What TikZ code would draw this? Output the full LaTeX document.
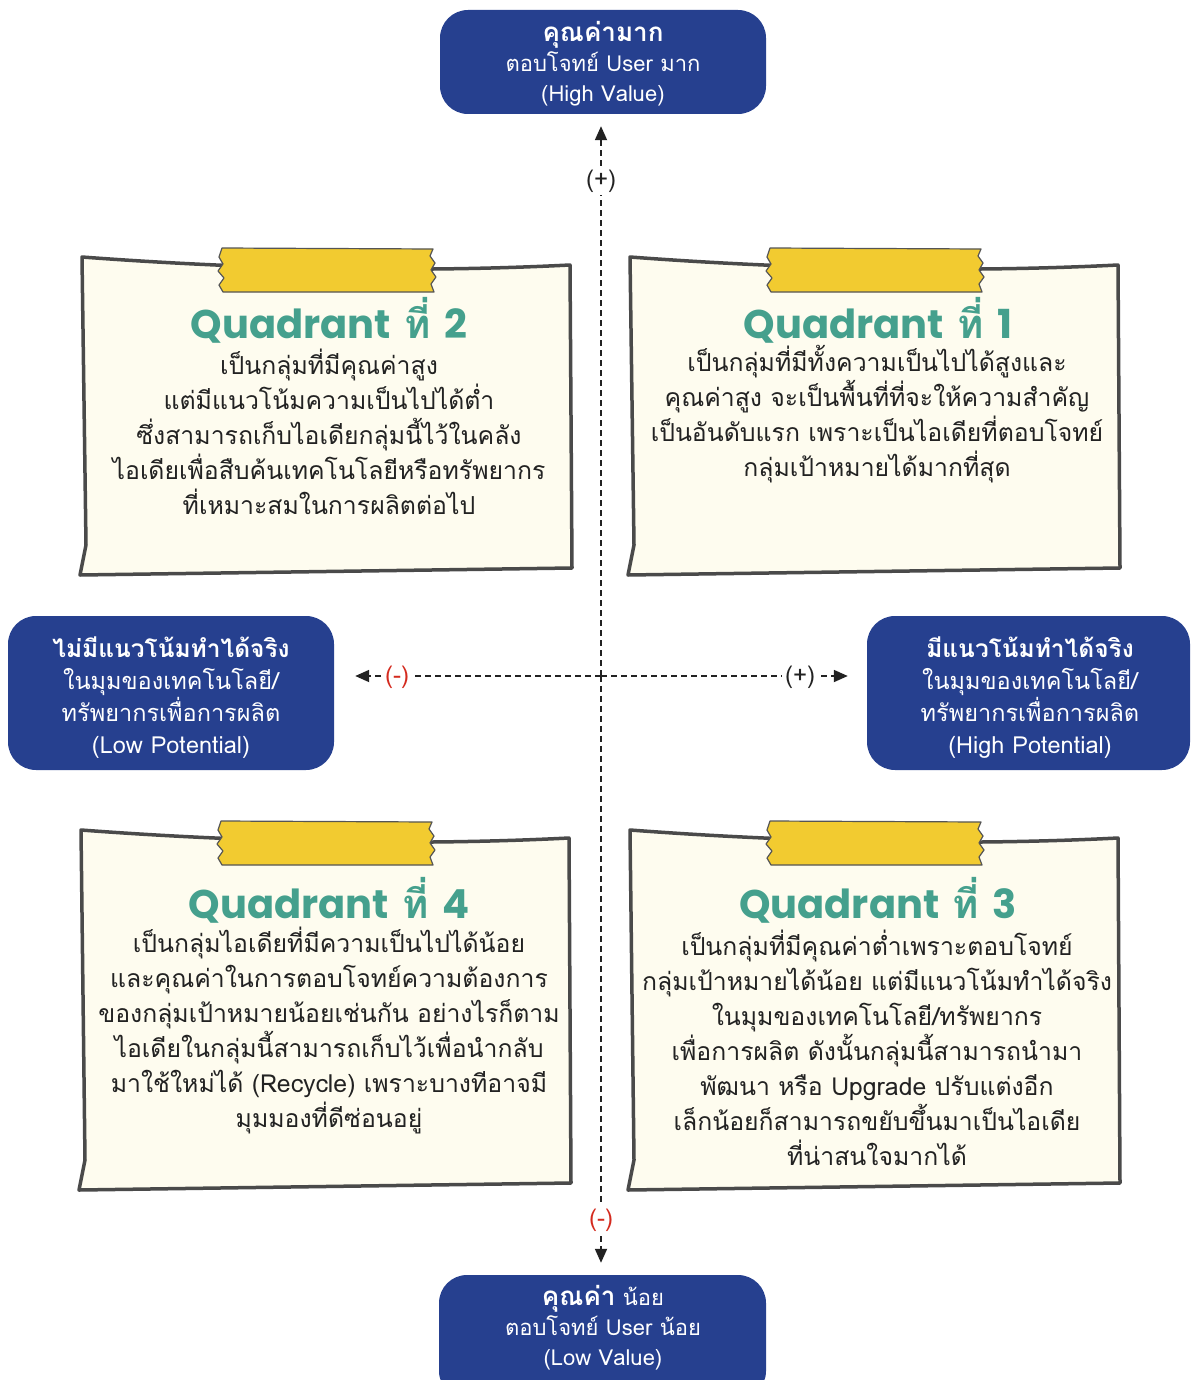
\documentclass[tikz,border=0pt]{standalone}
\usepackage{fontspec}
\setmainfont[Script=Thai]{Loma}
\newfontfamily\poppins{Poppins}
\usetikzlibrary{arrows.meta}

\definecolor{navy}{HTML}{26408F}
\definecolor{cardfill}{HTML}{FEFCEF}
\definecolor{cardline}{HTML}{4A4A4A}
\definecolor{tapeyellow}{HTML}{F2CB30}
\definecolor{tapeline}{HTML}{555555}
\definecolor{teal}{HTML}{45A08D}
\definecolor{minus}{HTML}{D42A1E}
\definecolor{ink}{HTML}{222222}

\tikzset{
  paper/.style={fill=cardfill, draw=cardline, line width=3.5pt, line join=round},
  tape/.style={fill=tapeyellow, draw=tapeline, line width=1.2pt, line join=round},
  bluebox/.style={fill=navy, draw=none, rounded corners=28pt, inner sep=0pt},
  boxtext/.style={text=white, align=center, inner sep=0pt, font=\fontsize{22}{30}\selectfont},
  sidetext/.style={text=white, align=center, inner sep=0pt, font=\fontsize{23.5}{32}\selectfont},
  qtitle/.style={text=teal, anchor=base, inner sep=0pt, font=\fontsize{40}{44}\selectfont\bfseries},
  qbody/.style={text=ink, align=center, inner sep=0pt, font=\fontsize{24.8}{35}\selectfont},
  axis/.style={draw=ink, line width=1.8pt, dash pattern=on 6pt off 4pt},
  tip/.style={-{Triangle[length=14pt,width=12pt]}},
  axislabel/.style={fill=white, inner sep=3pt, font=\fontsize{24}{28}\selectfont},
  pics/notecard/.style={code={
    \path[paper] (0,0) .. controls (160,12) and (330,16) .. (488,8)
      -- (490,#1-7) -- (-2,#1) -- (4,#1-30) -- cycle;
    \path[tape] (140,-9) -- (351,-8) -- (348,-1) -- (353,6) -- (349,13)
      -- (354,20) -- (349,27) -- (352,35) -- (141,35) -- (137,28)
      -- (142,21) -- (136,14) -- (141,7) -- (137,0) -- cycle;
  }}
}

\begin{document}
\begin{tikzpicture}[x=1pt,y=-1pt]
\useasboundingbox (0,0) rectangle (1192,1380);

% value / potential boxes
\node[bluebox, minimum width=326pt, minimum height=104pt] (high) at (603,62) {};
\node[boxtext] (hightxt) at (603,64) {{\fontsize{26}{30}\selectfont\bfseries คุณค่ามาก}\\ตอบโจทย์ User มาก\\(High Value)};

\node[bluebox, minimum width=326pt, minimum height=154pt] (lowpot) at (171,693) {};
\node[sidetext] (lowpottxt) at (171,698) {{\fontsize{24.5}{32}\selectfont\bfseries ไม่มีแนวโน้มทำได้จริง}\\ในมุมของเทคโนโลยี/\\ทรัพยากรเพื่อการผลิต\\(Low Potential)};

\node[bluebox, minimum width=323pt, minimum height=154pt] (highpot) at (1028.5,693) {};
\node[sidetext] (highpottxt) at (1030,698) {{\fontsize{24.5}{32}\selectfont\bfseries มีแนวโน้มทำได้จริง}\\ในมุมของเทคโนโลยี/\\ทรัพยากรเพื่อการผลิต\\(High Potential)};

\node[bluebox, minimum width=327pt, minimum height=124pt] (low) at (602.5,1337) {};
\node[boxtext] (lowtxt) at (603,1328) {{\fontsize{26}{30}\selectfont\bfseries คุณค่า} น้อย\\ตอบโจทย์ User น้อย\\(Low Value)};

% axes
\coordinate (origin) at (601,676);
\draw[axis, tip, shorten >=12pt] (origin) -- (origin |- high.south);
\draw[axis, tip, shorten >=12pt] (origin) -- (origin |- low.north);
\draw[axis, tip, shorten >=19pt] (origin) -- (origin -| highpot.west);
\draw[axis, tip, shorten >=21pt] (origin) -- (origin -| lowpot.east);
\node[axislabel, text=ink] (vplus) at (601,181) {(+)};
\node[axislabel, text=minus] (vminus) at (601,1220) {(-)};
\node[axislabel, text=ink] (hplus) at (800,677) {(+)};
\node[axislabel, text=minus] (hminus) at (397,677) {(-)};

% note cards
\pic at (82,257) {notecard=318};
\pic at (630,257) {notecard=318};
\pic at (81,830) {notecard=360};
\pic at (630,830) {notecard=360};

% quadrant 2
\node[qtitle] (q2title) at (329,338) {{\poppins Quadrant} ที่ {\poppins 2}};
\node[qbody] (q2body) at (329,432) {เป็นกลุ่มที่มีคุณค่าสูง\\แต่มีแนวโน้มความเป็นไปได้ต่ำ\\ซึ่งสามารถเก็บไอเดียกลุ่มนี้ไว้ในคลัง\\ไอเดียเพื่อสืบค้นเทคโนโลยีหรือทรัพยากร\\ที่เหมาะสมในการผลิตต่อไป};

% quadrant 1
\node[qtitle] (q1title) at (878,338) {{\poppins Quadrant} ที่ {\poppins 1}};
\node[qbody] (q1body) at (877,414) {เป็นกลุ่มที่มีทั้งความเป็นไปได้สูงและ\\คุณค่าสูง จะเป็นพื้นที่ที่จะให้ความสำคัญ\\เป็นอันดับแรก เพราะเป็นไอเดียที่ตอบโจทย์\\กลุ่มเป้าหมายได้มากที่สุด};

% quadrant 4
\node[qtitle] (q4title) at (329,918) {{\poppins Quadrant} ที่ {\poppins 4}};
\node[qbody] (q4body) at (329,1030) {เป็นกลุ่มไอเดียที่มีความเป็นไปได้น้อย\\และคุณค่าในการตอบโจทย์ความต้องการ\\ของกลุ่มเป้าหมายน้อยเช่นกัน อย่างไรก็ตาม\\ไอเดียในกลุ่มนี้สามารถเก็บไว้เพื่อนำกลับ\\มาใช้ใหม่ได้ (Recycle) เพราะบางทีอาจมี\\มุมมองที่ดีซ่อนอยู่};

% quadrant 3
\node[qtitle] (q3title) at (878,918) {{\poppins Quadrant} ที่ {\poppins 3}};
\node[qbody] (q3body) at (877,1048) {เป็นกลุ่มที่มีคุณค่าต่ำเพราะตอบโจทย์\\กลุ่มเป้าหมายได้น้อย แต่มีแนวโน้มทำได้จริง\\ในมุมของเทคโนโลยี/ทรัพยากร\\เพื่อการผลิต ดังนั้นกลุ่มนี้สามารถนำมา\\พัฒนา หรือ Upgrade ปรับแต่งอีก\\เล็กน้อยก็สามารถขยับขึ้นมาเป็นไอเดีย\\ที่น่าสนใจมากได้};
\end{tikzpicture}
\end{document}
